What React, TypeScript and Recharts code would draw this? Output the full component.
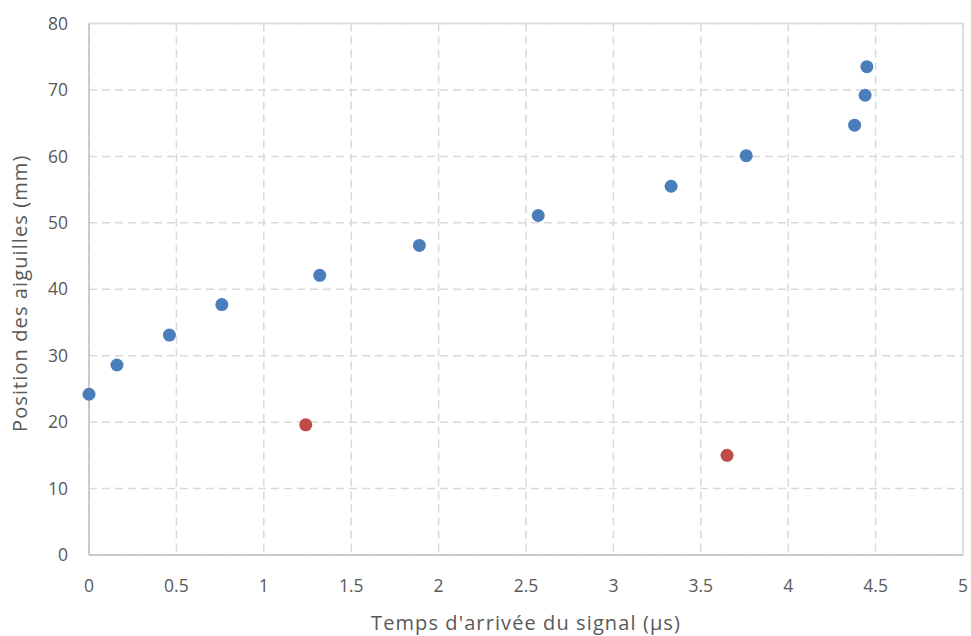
import React from 'react';
import { ScatterChart, Scatter, XAxis, YAxis, CartesianGrid, Label, ReferenceLine } from 'recharts';

// Temps d'arrivée (µs) et position (mm)
const tempsBleus = [0, 0.16, 0.46, 0.76, 1.32, 1.89, 2.57, 3.33, 3.76, 4.38, 4.44, 4.45];
const positionsBleues = [24.2, 28.6, 33.1, 37.7, 42.1, 46.6, 51.1, 55.5, 60.1, 64.7, 69.2, 73.5];
const tempsRouges = [1.24, 3.65];
const positionsRouges = [19.6, 15.0];
const ticksX = [0, 0.5, 1, 1.5, 2, 2.5, 3, 3.5, 4, 4.5, 5];
const ticksY = [0, 10, 20, 30, 40, 50, 60, 70, 80];

const bleus = tempsBleus.map((t, i) => ({ t, p: positionsBleues[i] }));
const rouges = tempsRouges.map((t, i) => ({ t, p: positionsRouges[i] }));

const FONT = '"Open Sans", Lato, sans-serif';
const tickStyle = { fontSize: 17.5, fill: '#595959', fontFamily: FONT };
const titleStyle = { fontSize: 20, fill: '#595959', fontFamily: FONT, letterSpacing: 1.1 };

const Dot = (props: any) => {
    const { cx, cy, fill } = props;
    return <circle cx={cx} cy={cy} r={6.5} fill={fill} />;
};

const App: React.FC = () => (
    <div style={{ position: 'absolute', left: 0, top: 0, width: 971, height: 636, background: '#fff' }}>
        <ScatterChart width={971} height={636} margin={{ top: 23.5, right: 8, left: 0, bottom: 0 }}>
            <CartesianGrid stroke="#d9d9d9" strokeDasharray="8 5" strokeWidth={1.5} />
            <XAxis
                type="number"
                dataKey="t"
                domain={[0, 5]}
                ticks={ticksX}
                tickLine={false}
                tickSize={0}
                tickMargin={25}
                axisLine={{ stroke: '#bfbfbf', strokeWidth: 1.5 }}
                tick={tickStyle}
                height={81}
                interval={0}
            >
                <Label
                    value="Temps d'arrivée du signal (µs)"
                    position="insideBottom"
                    offset={6}
                    style={titleStyle}
                />
            </XAxis>
            <YAxis
                type="number"
                dataKey="p"
                domain={[0, 80]}
                ticks={ticksY}
                tickLine={false}
                tickSize={0}
                tickMargin={21}
                axisLine={{ stroke: '#bfbfbf', strokeWidth: 1.5 }}
                tick={tickStyle}
                width={89}
                interval={0}
            >
                <Label
                    value="Position des aiguilles (mm)"
                    angle={-90}
                    position="insideLeft"
                    offset={20}
                    dy={4}
                    style={{ ...titleStyle, textAnchor: 'middle' }}
                />
            </YAxis>
            <ReferenceLine y={80} stroke="#d9d9d9" strokeWidth={1.5} />
            <ReferenceLine x={5} stroke="#d9d9d9" strokeWidth={1.5} />
            <Scatter data={bleus} fill="#4a7ebb" shape={<Dot />} isAnimationActive={false} />
            <Scatter data={rouges} fill="#be4b48" shape={<Dot />} isAnimationActive={false} />
        </ScatterChart>
    </div>
);

export default App;
